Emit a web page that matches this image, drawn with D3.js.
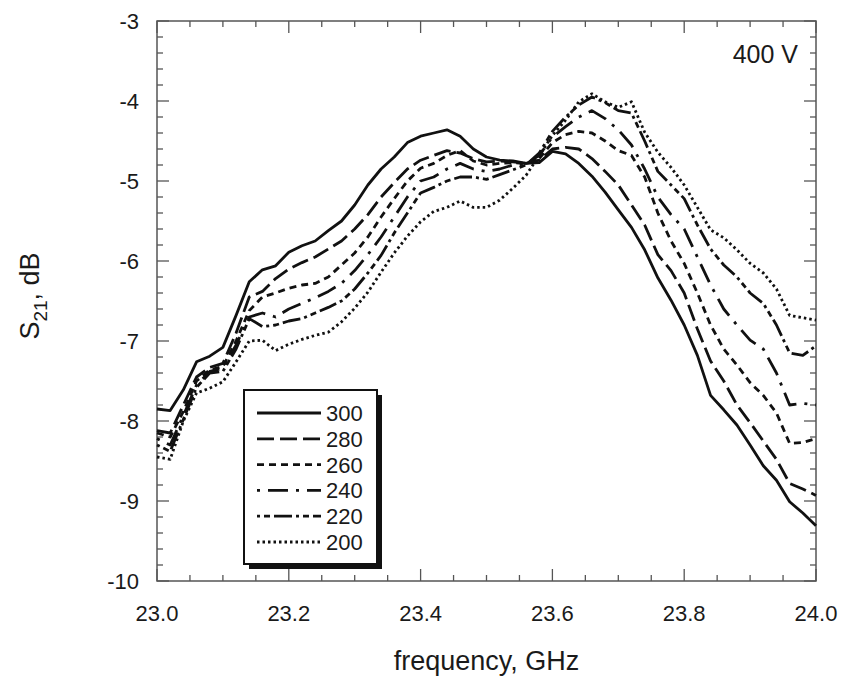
<!DOCTYPE html>
<html>
<head>
<meta charset="utf-8">
<script src="https://cdn.jsdelivr.net/npm/d3@7"></script>
<style>
  body { margin: 0; background: #fff; }
  svg text { font-family: "Liberation Sans", Arial, sans-serif; fill: #1a1a1a; }
</style>
</head>
<body>
<div id="chart"></div>
<script>
// frequency grid, GHz
var freq = [23.00, 23.02, 23.04, 23.06, 23.08, 23.10, 23.12, 23.14, 23.16, 23.18,
  23.20, 23.22, 23.24, 23.26, 23.28, 23.30, 23.32, 23.34, 23.36, 23.38,
  23.40, 23.42, 23.44, 23.46, 23.48, 23.50, 23.52, 23.54, 23.56, 23.58,
  23.60, 23.62, 23.64, 23.66, 23.68, 23.70, 23.72, 23.74, 23.76, 23.78,
  23.80, 23.82, 23.84, 23.86, 23.88, 23.90, 23.92, 23.94, 23.96, 23.98, 24.00];

// S21 in dB for each voltage
var s300 = [-7.85, -7.87, -7.61, -7.26, -7.19, -7.08, -6.68, -6.26, -6.11, -6.06,
  -5.89, -5.81, -5.75, -5.62, -5.50, -5.30, -5.05, -4.85, -4.70, -4.52,
  -4.44, -4.40, -4.36, -4.44, -4.60, -4.70, -4.74, -4.75, -4.78, -4.77,
  -4.63, -4.66, -4.78, -4.94, -5.14, -5.36, -5.58, -5.86, -6.21, -6.49,
  -6.80, -7.18, -7.68, -7.86, -8.05, -8.30, -8.56, -8.74, -9.01, -9.15, -9.31];
var s280 = [-8.12, -8.15, -7.80, -7.45, -7.33, -7.28, -6.90, -6.45, -6.38, -6.22,
  -6.10, -6.02, -5.95, -5.85, -5.75, -5.60, -5.42, -5.20, -5.02, -4.85,
  -4.74, -4.68, -4.62, -4.65, -4.72, -4.76, -4.75, -4.76, -4.78, -4.74,
  -4.60, -4.58, -4.60, -4.72, -4.88, -5.05, -5.30, -5.55, -5.92, -6.12,
  -6.40, -6.85, -7.25, -7.50, -7.80, -8.02, -8.25, -8.48, -8.78, -8.85, -8.93];
var s260 = [-8.15, -8.20, -7.88, -7.50, -7.36, -7.32, -7.00, -6.62, -6.45, -6.40,
  -6.34, -6.30, -6.28, -6.20, -6.05, -5.90, -5.70, -5.45, -5.22, -5.00,
  -4.84, -4.78, -4.68, -4.62, -4.75, -4.80, -4.78, -4.77, -4.78, -4.72,
  -4.52, -4.42, -4.38, -4.40, -4.50, -4.62, -4.68, -4.95, -5.40, -5.75,
  -6.03, -6.40, -6.80, -7.10, -7.30, -7.52, -7.68, -7.90, -8.28, -8.27, -8.22];
var s240 = [-8.22, -8.30, -7.93, -7.55, -7.38, -7.34, -7.05, -6.70, -6.65, -6.70,
  -6.60, -6.53, -6.46, -6.38, -6.28, -6.12, -5.92, -5.70, -5.45, -5.20,
  -5.00, -4.95, -4.85, -4.78, -4.85, -4.88, -4.85, -4.80, -4.79, -4.68,
  -4.45, -4.32, -4.20, -4.12, -4.22, -4.36, -4.55, -4.85, -5.20, -5.42,
  -5.60, -5.95, -6.30, -6.60, -6.80, -6.99, -7.10, -7.40, -7.80, -7.78, -7.80];
var s220 = [-8.30, -8.38, -7.98, -7.58, -7.40, -7.38, -7.10, -6.72, -6.82, -6.80,
  -6.75, -6.72, -6.65, -6.58, -6.50, -6.35, -6.15, -5.93, -5.65, -5.40,
  -5.15, -5.08, -5.00, -4.95, -4.95, -4.98, -4.92, -4.86, -4.80, -4.65,
  -4.38, -4.20, -4.05, -3.95, -4.02, -4.12, -4.15, -4.50, -4.88, -5.05,
  -5.22, -5.55, -5.85, -6.05, -6.20, -6.40, -6.53, -6.80, -7.15, -7.18, -7.06];
var s200 = [-8.45, -8.48, -8.00, -7.65, -7.59, -7.51, -7.26, -7.00, -6.99, -7.12,
  -7.04, -6.98, -6.93, -6.89, -6.76, -6.59, -6.39, -6.14, -5.90, -5.69,
  -5.51, -5.38, -5.33, -5.25, -5.33, -5.33, -5.24, -5.09, -4.93, -4.68,
  -4.43, -4.24, -4.01, -3.91, -4.01, -4.08, -4.01, -4.39, -4.64, -4.83,
  -5.05, -5.33, -5.61, -5.71, -5.86, -6.03, -6.15, -6.35, -6.68, -6.71, -6.74];

var labels = ["300", "280", "260", "240", "220", "200"];
var dashes = ["none", "17,6", "7,5", "3,8,20,8", "3,4,6,4,18,4", "2.5,3"];
var seriesList = [s300, s280, s260, s240, s220, s200];

var xTicks = [23.0, 23.2, 23.4, 23.6, 23.8, 24.0];
var yTicks = [-3, -4, -5, -6, -7, -8, -9, -10];

var width = 843, height = 688;
var pLeft = 157, pRight = 816, pTop = 21, pBottom = 581;

var svg = d3.select("#chart").append("svg")
  .attr("width", width)
  .attr("height", height);

var x = d3.scaleLinear().domain([23, 24]).range([pLeft, pRight]);
var y = d3.scaleLinear().domain([-10, -3]).range([pBottom, pTop]);

// minor/major tick positions
var xMinor = d3.range(23, 24.0001, 0.05);
var yMinor = d3.range(-10, -2.9999, 0.2);

var axisColor = "#555";

var tickG = svg.append("g").attr("stroke", axisColor).attr("stroke-width", 1.3);

xMinor.forEach(function(v) {
  var major = Math.abs(v * 5 - Math.round(v * 5)) < 1e-6;
  var len = major ? 12 : 6;
  tickG.append("line").attr("x1", x(v)).attr("x2", x(v)).attr("y1", pBottom).attr("y2", pBottom - len);
  tickG.append("line").attr("x1", x(v)).attr("x2", x(v)).attr("y1", pTop).attr("y2", pTop + len);
});
yMinor.forEach(function(v) {
  var major = Math.abs(v - Math.round(v)) < 1e-6;
  var len = major ? 12 : 6;
  tickG.append("line").attr("x1", pLeft).attr("x2", pLeft + len).attr("y1", y(v)).attr("y2", y(v));
  tickG.append("line").attr("x1", pRight).attr("x2", pRight - len).attr("y1", y(v)).attr("y2", y(v));
});

svg.append("rect")
  .attr("x", pLeft).attr("y", pTop)
  .attr("width", pRight - pLeft).attr("height", pBottom - pTop)
  .attr("fill", "none").attr("stroke", axisColor).attr("stroke-width", 1.5);

// tick labels
svg.selectAll(".xl").data(xTicks).enter().append("text")
  .attr("x", function(d) { return x(d); })
  .attr("y", pBottom + 40)
  .attr("text-anchor", "middle")
  .style("font-size", "22px")
  .text(function(d) { return d.toFixed(1); });

svg.selectAll(".yl").data(yTicks).enter().append("text")
  .attr("x", pLeft - 18)
  .attr("y", function(d) { return y(d) + 8; })
  .attr("text-anchor", "end")
  .style("font-size", "22px")
  .text(function(d) { return d; });

// axis titles
svg.append("text")
  .attr("x", (pLeft + pRight) / 2)
  .attr("y", 670)
  .attr("text-anchor", "middle")
  .style("font-size", "27px")
  .text("frequency, GHz");

var yt = svg.append("text")
  .attr("transform", "translate(39," + 296 + ") rotate(-90)")
  .attr("text-anchor", "middle")
  .style("font-size", "27px");
yt.append("tspan").text("S");
yt.append("tspan").attr("dy", 8).style("font-size", "19px").text("21");
yt.append("tspan").attr("dy", -8).text(", dB");

svg.append("text")
  .attr("x", 798).attr("y", 63)
  .attr("text-anchor", "end")
  .style("font-size", "25px")
  .text("400 V");

// curves
var line = d3.line()
  .x(function(d, i) { return x(freq[i]); })
  .y(function(d) { return y(d); });

svg.append("g").selectAll("path").data(seriesList).enter().append("path")
  .attr("d", function(d) { return line(d); })
  .attr("fill", "none")
  .attr("stroke", "#111")
  .attr("stroke-width", 2.8)
  .attr("stroke-linejoin", "round")
  .attr("stroke-dasharray", function(d, i) { return dashes[i]; });

// legend box with shadow
var lx = 244, ly = 390, lw = 133, lh = 174;
svg.append("rect").attr("x", lx + 5).attr("y", ly + 5).attr("width", lw).attr("height", lh)
  .attr("fill", "#111");
svg.append("rect").attr("x", lx).attr("y", ly).attr("width", lw).attr("height", lh)
  .attr("fill", "#fff").attr("stroke", "#111").attr("stroke-width", 2);

var leg = svg.append("g").selectAll("g").data(labels).enter().append("g")
  .attr("transform", function(d, i) { return "translate(0," + (ly + 23 + i * 25.8) + ")"; });
leg.append("line")
  .attr("x1", 257).attr("x2", 321).attr("y1", 0).attr("y2", 0)
  .attr("stroke", "#111").attr("stroke-width", 2.8)
  .attr("stroke-dasharray", function(d, i) { return dashes[i]; });
leg.append("text")
  .attr("x", 326).attr("y", 8)
  .style("font-size", "22px")
  .text(function(d) { return d; });
</script>
</body>
</html>
